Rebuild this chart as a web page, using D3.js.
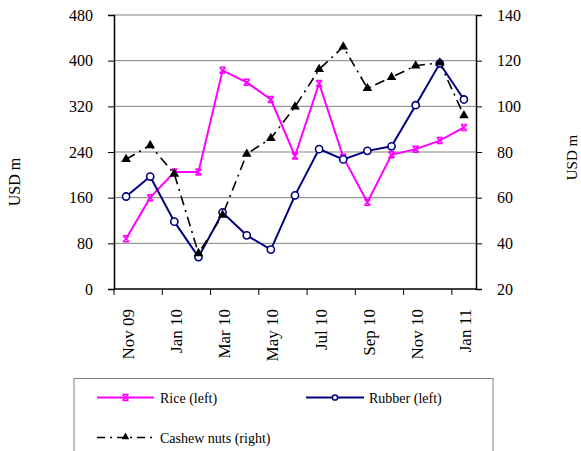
<!DOCTYPE html>
<html><head><meta charset="utf-8">
<script src="https://cdn.jsdelivr.net/npm/d3@7"></script>
<style>body{margin:0;background:#fff}svg{display:block}</style>
</head><body>
<script>
const months = ["Nov 09","Dec 09","Jan 10","Feb 10","Mar 10","Apr 10","May 10","Jun 10","Jul 10","Aug 10","Sep 10","Oct 10","Nov 10","Dec 10","Jan 11"];
const rice   = [88,160,205,205,383,362,332,233,360,231,152,235,245,260,283];
const rubber = [162,197,118,56,134,94,69,164,245,227,242,250,322,395,332];
const cashew = [76.8,82.9,70.4,35.6,52.4,79.1,86,99.8,116.2,126.1,107.9,112.7,117.8,119.1,96];
const leftTicks  = [0,80,160,240,320,400,480];
const rightTicks = [20,40,60,80,100,120,140];
const seriesNames = ["Rice (left)","Rubber (left)","Cashew nuts (right)"];

const FONT = "Liberation Serif, DejaVu Serif, serif";
const W=581,H=451, L=114, R=476, T=15, B=289;
const svg=d3.select("body").append("svg").attr("width",W).attr("height",H);

const x=d3.scaleBand().domain(months).range([L,R]).padding(0);
const cx=m=>x(m)+x.bandwidth()/2;
const yL=d3.scaleLinear().domain([0,480]).range([B,T]);
const yR=d3.scaleLinear().domain([20,140]).range([B,T]);

// gridlines
svg.append("g").selectAll("line").data(leftTicks.slice(1)).join("line")
  .attr("x1",L).attr("x2",R).attr("y1",d=>yL(d)).attr("y2",d=>yL(d))
  .attr("stroke","#808080").attr("stroke-width",1);

// left axis
const ga=svg.append("g").attr("transform",`translate(${L},0)`)
  .call(d3.axisLeft(yL).tickValues(leftTicks).tickSize(6).tickPadding(15));
ga.attr("font-family",FONT);
ga.select(".domain").attr("stroke","#000").attr("stroke-width",1.5);
ga.selectAll("text").attr("font-size",16).attr("fill","#000");
// right axis
const gr=svg.append("g").attr("transform",`translate(${R},0)`)
  .call(d3.axisRight(yR).tickValues(rightTicks).tickSize(6).tickPadding(15));
gr.attr("font-family",FONT);
gr.select(".domain").attr("stroke","#000").attr("stroke-width",1.5);
gr.selectAll("text").attr("font-size",16).attr("fill","#000");

// bottom axis
svg.append("line").attr("x1",L).attr("x2",R).attr("y1",B).attr("y2",B).attr("stroke","#000").attr("stroke-width",1.5);
svg.append("g").selectAll("line").data(months.filter((m,i)=>i%2===0)).join("line")
  .attr("x1",d=>x(d)).attr("x2",d=>x(d)).attr("y1",B).attr("y2",B+6).attr("stroke","#000");
svg.append("g").selectAll("text").data(months.filter((m,i)=>i%2===0)).join("text")
  .attr("transform",d=>`translate(${cx(d)+7.5},309) rotate(-90)`)
  .attr("text-anchor","end").attr("font-size",17).text(d=>d);

// axis titles
svg.append("text").attr("transform","translate(19.5,182) rotate(-90)").attr("text-anchor","middle").attr("font-size",16).text("USD m");
svg.append("text").attr("transform","translate(577,157.5) rotate(-90)").attr("text-anchor","middle").attr("font-size",15).text("USD m");

// lines
const lineL=d3.line().x((d,i)=>cx(months[i])).y(d=>yL(d));
const lineR=d3.line().x((d,i)=>cx(months[i])).y(d=>yR(d));
svg.append("path").attr("d",lineL(rice)).attr("fill","none").attr("stroke","#ff00ff").attr("stroke-width",2);
svg.append("path").attr("d",lineL(rubber)).attr("fill","none").attr("stroke","#000080").attr("stroke-width",2);
svg.append("path").attr("d",lineR(cashew)).attr("fill","none").attr("stroke","#000").attr("stroke-width",1.6).attr("stroke-dasharray","10,5,2,5");

function riceMarker(g,px,py){
  const s=3;
  g.append("path").attr("d",`M${px-s},${py-s}L${px+s},${py+s}M${px+s},${py-s}L${px-s},${py+s}M${px-s},${py-s}H${px+s}M${px-s},${py+s}H${px+s}`)
   .attr("stroke","#ff00ff").attr("stroke-width",1.5).attr("fill","none");
}
const mk=svg.append("g");
rice.forEach((v,i)=>riceMarker(mk,cx(months[i]),yL(v)));
mk.selectAll("circle").data(rubber).join("circle").attr("cx",(d,i)=>cx(months[i])).attr("cy",d=>yL(d)).attr("r",3.6)
  .attr("fill","#fff").attr("stroke","#000080").attr("stroke-width",1.6);
const tri=d3.symbol().type(d3.symbolTriangle).size(40);
svg.append("g").selectAll("path").data(cashew).join("path").attr("d",tri)
  .attr("transform",(d,i)=>`translate(${cx(months[i])},${yR(d)})`).attr("fill","#000");

// legend
const lg=svg.append("g");
lg.append("rect").attr("x",74).attr("y",378.5).attr("width",419).attr("height",80).attr("fill","#fff").attr("stroke","#808080").attr("stroke-width",1);
lg.append("line").attr("x1",97).attr("x2",154).attr("y1",397.5).attr("y2",397.5).attr("stroke","#ff00ff").attr("stroke-width",2);
riceMarker(lg,125.5,397.5);
lg.append("text").attr("x",160).attr("y",402.5).attr("font-size",14).text(seriesNames[0]);
lg.append("line").attr("x1",306).attr("x2",364).attr("y1",397.5).attr("y2",397.5).attr("stroke","#000080").attr("stroke-width",2);
lg.append("circle").attr("cx",335).attr("cy",397.5).attr("r",2.6).attr("fill","#fff").attr("stroke","#000080").attr("stroke-width",1.5);
lg.append("text").attr("x",369).attr("y",402.5).attr("font-size",14).text(seriesNames[1]);
lg.append("line").attr("x1",97).attr("x2",155).attr("y1",437.5).attr("y2",437.5).attr("stroke","#000").attr("stroke-width",1.6).attr("stroke-dasharray","8,5,2,5");
lg.append("path").attr("d",d3.symbol().type(d3.symbolTriangle).size(25)).attr("transform","translate(125.5,437)").attr("fill","#000");
lg.append("text").attr("x",160).attr("y",442.5).attr("font-size",14).text(seriesNames[2]);

svg.selectAll("text").attr("font-family",FONT);
</script>
</body></html>
